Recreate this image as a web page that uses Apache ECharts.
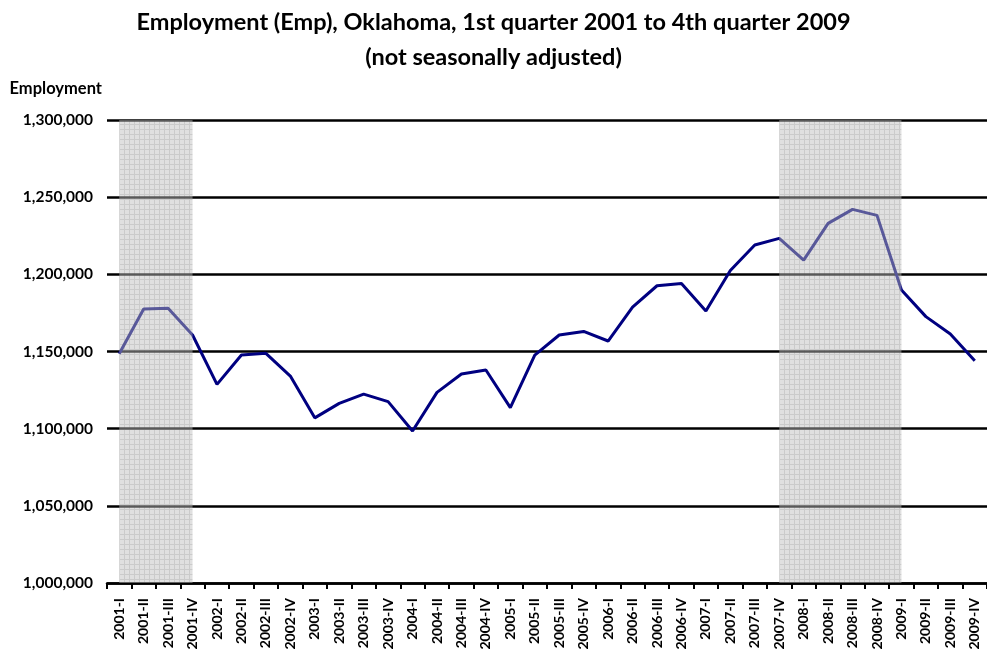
<!DOCTYPE html>
<html>
<head>
<meta charset="utf-8">
<style>
  html, body { margin: 0; padding: 0; background: #ffffff; }
  #chart { width: 987px; height: 653px; }
</style>
<script src="https://cdn.jsdelivr.net/npm/echarts@6/dist/echarts.min.js"></script>
</head>
<body>
<div id="chart"></div>
<script>
// Quarterly employment, Oklahoma (not seasonally adjusted)
const quarters = [
  '2001-I', '2001-II', '2001-III', '2001-IV',
  '2002-I', '2002-II', '2002-III', '2002-IV',
  '2003-I', '2003-II', '2003-III', '2003-IV',
  '2004-I', '2004-II', '2004-III', '2004-IV',
  '2005-I', '2005-II', '2005-III', '2005-IV',
  '2006-I', '2006-II', '2006-III', '2006-IV',
  '2007-I', '2007-II', '2007-III', '2007-IV',
  '2008-I', '2008-II', '2008-III', '2008-IV',
  '2009-I', '2009-II', '2009-III', '2009-IV'
];

const employment = [
  1148500, 1177500, 1178000, 1160700,
  1128700, 1147700, 1148800, 1134100,
  1107000, 1116400, 1122400, 1117500,
  1098500, 1123500, 1135400, 1138000,
  1113600, 1147700, 1160700, 1163000,
  1156800, 1178800, 1192600, 1194000,
  1176200, 1202500, 1219000, 1223300,
  1209200, 1233000, 1242100, 1238200,
  1189800, 1172600, 1161300, 1144000
];

// Recession periods shaded over the line
const recessions = [
  ['2001-I', '2001-IV'],
  ['2007-IV', '2009-I']
];

const yMin = 1000000;
const yMax = 1300000;
const yStep = 50000;

// Light grey cross-hatched fill used for the recession bands
function hatchPattern() {
  const c = document.createElement('canvas');
  c.width = 5;
  c.height = 5;
  const ctx = c.getContext('2d');
  ctx.fillStyle = 'rgba(189,189,189,0.47)';
  ctx.fillRect(0, 0, 5, 5);
  ctx.clearRect(4, 0, 1, 5);
  ctx.clearRect(0, 4, 4, 1);
  ctx.fillStyle = 'rgba(160,160,160,0.55)';
  ctx.fillRect(4, 0, 1, 5);
  ctx.fillRect(0, 4, 4, 1);
  return { image: c, repeat: 'repeat' };
}

const FONT = 'Lato';
const titleStyle = {
  fontFamily: FONT,
  fontWeight: 'bold',
  fontSize: 23.5,
  color: '#000000'
};

const chart = echarts.init(document.getElementById('chart'), null, { renderer: 'canvas' });

chart.setOption({
  animation: false,
  backgroundColor: '#ffffff',
  title: [
    {
      text: 'Employment (Emp), Oklahoma, 1st quarter 2001 to 4th quarter 2009',
      left: 'center',
      top: 10,
      padding: 0,
      textStyle: titleStyle
    },
    {
      text: '(not seasonally adjusted)',
      left: 'center',
      top: 45,
      padding: 0,
      textStyle: titleStyle
    }
  ],
  grid: {
    left: 107,
    top: 120,
    width: 885,
    height: 463,
    containLabel: false
  },
  xAxis: {
    type: 'category',
    data: quarters,
    boundaryGap: true,
    axisLine: { show: true, lineStyle: { color: '#000000', width: 2.5 } },
    axisTick: { show: true, inside: false, length: 6, alignWithLabel: false, lineStyle: { color: '#000000', width: 2 } },
    axisLabel: {
      interval: 0,
      rotate: 90,
      margin: 15,
      fontFamily: FONT,
      fontWeight: 'bold',
      fontSize: 14,
      color: '#000000'
    },
    splitLine: { show: false }
  },
  yAxis: {
    type: 'value',
    min: yMin,
    max: yMax,
    interval: yStep,
    name: 'Employment',
    nameLocation: 'end',
    nameGap: 23,
    nameTextStyle: {
      fontFamily: FONT,
      fontWeight: 'bold',
      fontSize: 16.5,
      color: '#000000',
      align: 'right',
      padding: [0, 5, 0, 0]
    },
    axisLine: { show: false },
    axisTick: { show: false },
    axisLabel: {
      margin: 14,
      fontFamily: FONT,
      fontWeight: 'bold',
      fontSize: 15.5,
      color: '#000000',
      formatter: v => v.toLocaleString('en-US')
    },
    splitLine: { show: true, lineStyle: { color: '#000000', width: 2.5 } }
  },
  series: [
    {
      name: 'Emp',
      type: 'line',
      data: employment,
      symbol: 'none',
      z: 2,
      lineStyle: { color: '#000080', width: 3 },
      itemStyle: { color: '#000080' }
    },
    {
      name: 'Recession',
      type: 'line',
      data: employment,
      symbol: 'none',
      silent: true,
      z: 10,
      lineStyle: { opacity: 0 },
      markArea: {
        silent: true,
        z: 10,
        itemStyle: { color: hatchPattern(), borderWidth: 0 },
        data: recessions.map(r => [{ xAxis: r[0] }, { xAxis: r[1] }])
      }
    }
  ]
});
</script>
</body>
</html>
